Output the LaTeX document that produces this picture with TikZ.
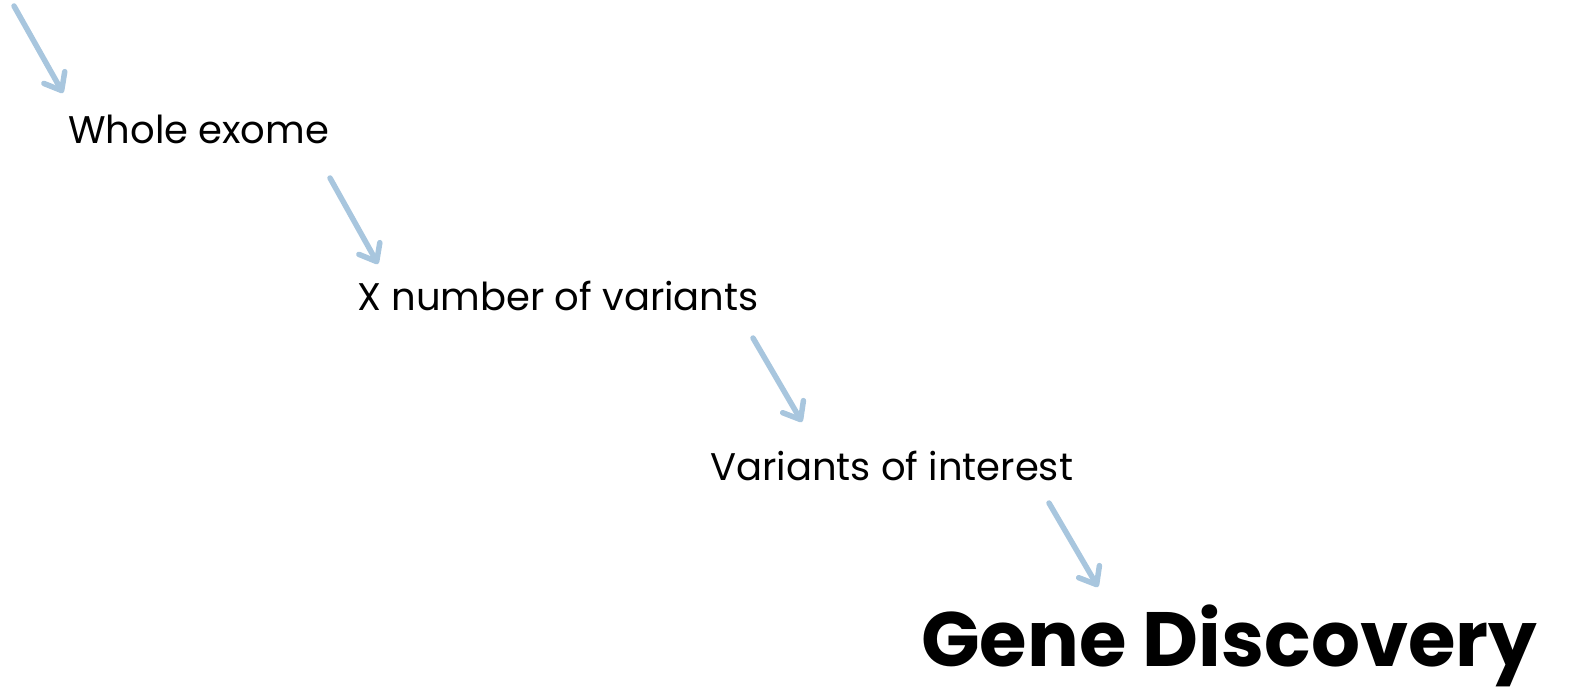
\documentclass[tikz,border=0pt]{standalone}
\usepackage{fontspec}
\setmainfont{Poppins}
\usetikzlibrary{arrows.meta}
\definecolor{arrowblue}{RGB}{168,198,222}
\tikzset{
  flow/.style={draw=arrowblue, line width=5.5pt, line cap=round,
    -{Straight Barb[length=15pt,width=24pt,round]}},
  lbl/.style={anchor=base west, inner sep=0pt, font=\fontsize{38.5}{42}\selectfont},
  big/.style={anchor=base west, inner sep=0pt, font=\fontsize{77}{84}\selectfont\bfseries}
}
\begin{document}
\begin{tikzpicture}[x=1pt,y=-1pt]
\useasboundingbox (0,0) rectangle (1571,690);
\node[lbl] (whole) at (68,143) {Whole exome};
\node[lbl] (xnum) at (357,310) {X number of variants};
\node[lbl] (voi) at (710,480) {Variants of interest};
\node[big] (gene) at (921,666) {Gene Discovery};
\coordinate (a1s) at (14,6);
\coordinate (a1e) at (63,93);
\coordinate (a2s) at (330,178);
\coordinate (a2e) at (378,264);
\coordinate (a3s) at (753,338);
\coordinate (a3e) at (802,422);
\coordinate (a4s) at (1049,503);
\coordinate (a4e) at (1098,587);
\draw[flow] (a1s) -- (a1e);
\draw[flow] (a2s) -- (a2e);
\draw[flow] (a3s) -- (a3e);
\draw[flow] (a4s) -- (a4e);
\end{tikzpicture}
\end{document}
